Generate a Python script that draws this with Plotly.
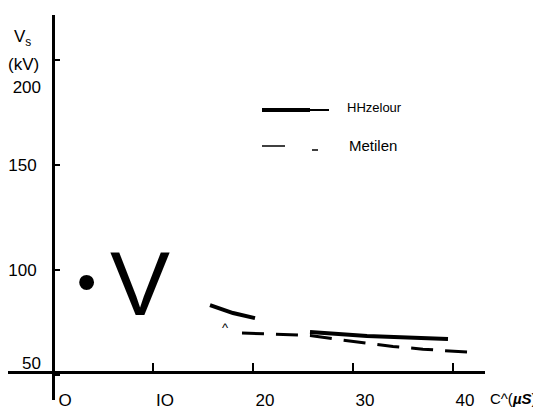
import plotly.graph_objects as go

# ---- data ----
solid_name = "HHzelour"
solid_c = [15.7, 18.0, 20.2, None, 25.7, 31.4, 39.5]
solid_v = [83.3, 79.5, 77.1, None, 70.5, 68.6, 67.1]

dash_name = "Metilen"
dash_c = [18.9, 22.5, 25.7, 28.9, 31.4, 34.0, 37.0, 39.7, 42.4]
dash_v = [70.0, 69.3, 68.8, 66.7, 65.1, 63.6, 62.3, 61.4, 60.6]

x_tickvals = [0, 10, 20, 30, 40]
x_ticktext = ["O", "IO", "20", "30", "40"]
y_tickvals = [50, 100, 150, 200]
y_ticktext = ["50", "100", "150", "200"]

W, H = 541, 419
OFF = 8  # page body margin
FONT = "Liberation Sans, Arial, sans-serif"
Y_RANGE = [38.10, 221.43]

def px(xs):
    return (xs - OFF) / W

def py(ys):
    return (H - (ys - OFF)) / H

gap = solid_c.index(None)
fig = go.Figure()
fig.add_trace(go.Scatter(x=solid_c[:gap], y=solid_v[:gap], mode="lines",
                         name=solid_name, yaxis="y",
                         line=dict(color="black", width=4), showlegend=False))
fig.add_trace(go.Scatter(x=solid_c[gap + 1:], y=solid_v[gap + 1:], mode="lines",
                         name=solid_name, yaxis="y3",
                         line=dict(color="black", width=4), showlegend=False))
fig.add_trace(go.Scatter(x=dash_c, y=dash_v, mode="lines", name=dash_name,
                         yaxis="y2",
                         line=dict(color="black", width=3, dash="22px,12px"),
                         showlegend=False))

y_common = dict(range=Y_RANGE, anchor="free", position=px(53),
                showgrid=False, zeroline=False,
                ticklabelstandoff=12, tickfont=dict(size=17, family=FONT))

# middle labels on the main axis; the scanned "50" and "200" labels sit off their ticks
mid_text = [t if v in (100, 150) else "" for v, t in zip(y_tickvals, y_ticktext)]

fig.update_layout(
    width=W, height=H,
    margin=dict(l=0, r=0, t=0, b=0),
    paper_bgcolor="white", plot_bgcolor="white",
    font=dict(family=FONT, color="black"),
    xaxis=dict(domain=[px(OFF), px(485)], range=[-4.5, 43.2],
               anchor="free", position=py(372),
               showline=True, linecolor="black", linewidth=2.5,
               showgrid=False, zeroline=False,
               tickvals=x_tickvals, ticktext=x_ticktext,
               ticks="inside", ticklen=8, tickwidth=1.5, tickcolor="black",
               ticklabelshift=12, ticklabelstandoff=12,
               tickfont=dict(size=17, family=FONT)),
    yaxis=dict(domain=[py(400), py(15)],
               showline=True, linecolor="black", linewidth=3,
               tickvals=y_tickvals, ticktext=mid_text,
               ticks="inside", ticklen=5, tickwidth=1.5, tickcolor="black",
               **y_common),
    yaxis2=dict(overlaying="y", showline=False, ticks="",
                tickvals=[y_tickvals[3]], ticktext=[y_ticktext[3]],
                ticklabelshift=27, **y_common),
    yaxis3=dict(overlaying="y", showline=False, ticks="",
                tickvals=[y_tickvals[0]], ticktext=[y_ticktext[0]],
                ticklabelshift=-12, **y_common),
)

def note(xs, ys, text, size, xanchor="center", family=FONT):
    return dict(x=px(xs), y=py(ys), xref="paper", yref="paper",
                xanchor=xanchor, yanchor="middle", text=text,
                showarrow=False, font=dict(size=size, family=family))

ann = [
    note(22, 38, "V<sub>s</sub>", 17),
    note(23, 64, "(kV)", 17),
    note(488, 398, "C^(<b><i>µS</i></b>)", 15, xanchor="left"),
    note(86, 282, "•", 55),
    note(140, 284, "V", 90),
    note(225, 327, "^", 13),
    note(345, 108, solid_name, 13, xanchor="left"),
    note(347, 145, dash_name, 15, xanchor="left"),
]
fig.update_layout(annotations=ann)

# legend samples
def hline(x0, x1, y, w):
    return dict(type="line", xref="paper", yref="paper", x0=px(x0), x1=px(x1),
                y0=py(y), y1=py(y), line=dict(color="black", width=w))

shapes = [
    hline(262, 310, 110, 4),
    hline(310, 329, 110, 2),
    hline(262, 285, 146, 1.5),
    hline(312, 318, 150, 1.5),
]
fig.update_layout(shapes=shapes)

fig.write_html("out.html")
